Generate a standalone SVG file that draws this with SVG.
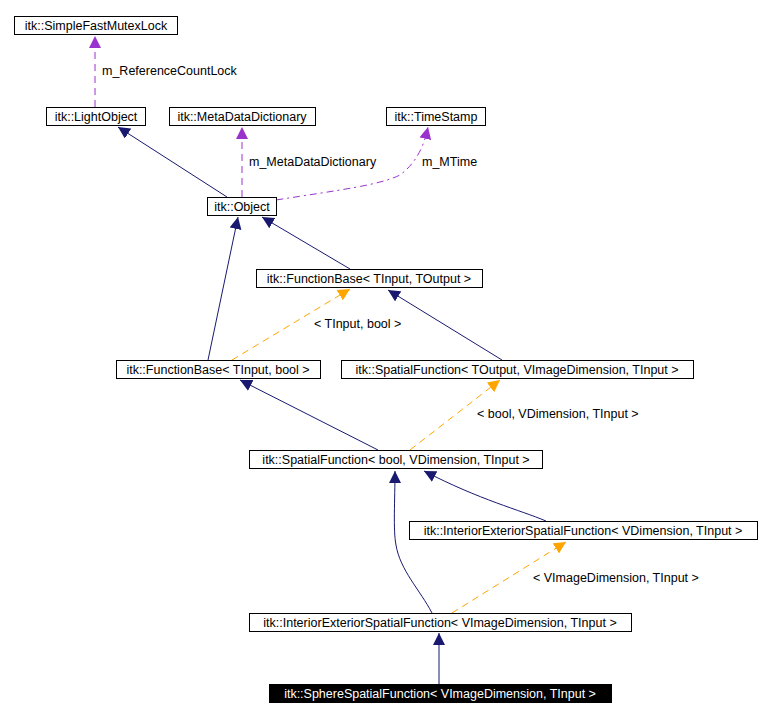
<svg xmlns="http://www.w3.org/2000/svg" width="769" height="718" viewBox="0 0 769 718">
<style>
text{font-family:"Liberation Sans",Arial,sans-serif;font-size:12.5px;fill:#000}
.n rect{fill:#fff;stroke:#000;stroke-width:1}
.n text{text-anchor:middle}
.e{fill:none;stroke-width:1}
.b{stroke:#191970;marker-end:url(#ab)}
.p{stroke:#9a32cd;stroke-dasharray:7,5;marker-end:url(#ap)}
.o{stroke:#ffa500;stroke-dasharray:7,5;marker-end:url(#ao)}
</style>
<defs>
<marker id="ab" viewBox="0 0 10 10" refX="10" refY="5" markerWidth="12" markerHeight="12" markerUnits="userSpaceOnUse" orient="auto"><path d="M0,0L10,5L0,10z" fill="#191970"/></marker>
<marker id="ap" viewBox="0 0 10 10" refX="10" refY="5" markerWidth="12" markerHeight="12" markerUnits="userSpaceOnUse" orient="auto"><path d="M0,0L10,5L0,10z" fill="#9a32cd"/></marker>
<marker id="ao" viewBox="0 0 10 10" refX="10" refY="5" markerWidth="12" markerHeight="12" markerUnits="userSpaceOnUse" orient="auto"><path d="M0,0L10,5L0,10z" fill="#ffa500"/></marker>
</defs>
<rect width="769" height="718" fill="#fff"/>
<g id="edges">
<path class="e p" d="M95,107L95,36"/>
<path class="e b" d="M227,197L118,127"/>
<path class="e p" d="M242,197L242,127"/>
<path class="e p" style="stroke-dasharray:7,4,2,4" d="M276,200C340,190 380,185 400,175C420,160 425,140 428,127"/>
<path class="e b" d="M208,360L238,217"/>
<path class="e b" d="M350,269L262,217"/>
<path class="e o" d="M232,360L350,289"/>
<path class="e b" d="M502,360L388,290"/>
<path class="e b" d="M378,450L240,380"/>
<path class="e o" d="M410,450L500,380"/>
<path class="e b" d="M546,521C520,510 480,500 424,471"/>
<path class="e b" d="M432,613C420,590 400,570 396,545C393,530 395,500 395,471"/>
<path class="e o" d="M452,613L566,542"/>
<path class="e b" d="M439,684L439,633"/>
</g>
<g id="labels">
<text x="102" y="75">m_ReferenceCountLock</text>
<text x="249" y="166">m_MetaDataDictionary</text>
<text x="422" y="166">m_MTime</text>
<text x="314" y="328">&lt; TInput, bool &gt;</text>
<text x="477" y="418">&lt; bool, VDimension, TInput &gt;</text>
<text x="533" y="582">&lt; VImageDimension, TInput &gt;</text>
</g>
<g id="n1" class="n"><rect x="14.5" y="16.5" width="163" height="18"/><text x="96" y="30">itk::SimpleFastMutexLock</text></g>
<g id="n2" class="n"><rect x="46.5" y="107.5" width="99" height="18"/><text x="96" y="121">itk::LightObject</text></g>
<g id="n3" class="n"><rect x="169.5" y="107.5" width="146" height="18"/><text x="242" y="121">itk::MetaDataDictionary</text></g>
<g id="n4" class="n"><rect x="386.5" y="107.5" width="99" height="18"/><text x="436" y="121">itk::TimeStamp</text></g>
<g id="n5" class="n"><rect x="207.5" y="197.5" width="69" height="18"/><text x="242" y="211">itk::Object</text></g>
<g id="n6" class="n"><rect x="256.5" y="269.5" width="226" height="18"/><text x="369" y="283">itk::FunctionBase&lt; TInput, TOutput &gt;</text></g>
<g id="n7" class="n"><rect x="116.5" y="360.5" width="204" height="18"/><text x="218" y="374">itk::FunctionBase&lt; TInput, bool &gt;</text></g>
<g id="n8" class="n"><rect x="341.5" y="360.5" width="352" height="18"/><text x="517" y="374">itk::SpatialFunction&lt; TOutput, VImageDimension, TInput &gt;</text></g>
<g id="n9" class="n"><rect x="249.5" y="450.5" width="293" height="18"/><text x="396" y="464">itk::SpatialFunction&lt; bool, VDimension, TInput &gt;</text></g>
<g id="n10" class="n"><rect x="409.5" y="521.5" width="348" height="18"/><text x="583" y="535">itk::InteriorExteriorSpatialFunction&lt; VDimension, TInput &gt;</text></g>
<g id="n11" class="n"><rect x="249.5" y="613.5" width="382" height="18"/><text x="440" y="627">itk::InteriorExteriorSpatialFunction&lt; VImageDimension, TInput &gt;</text></g>
<g id="n12" class="n"><rect x="269.5" y="684.5" width="342" height="18" style="fill:#000"/><text x="440" y="698" style="fill:#fff">itk::SphereSpatialFunction&lt; VImageDimension, TInput &gt;</text></g>
</svg>
